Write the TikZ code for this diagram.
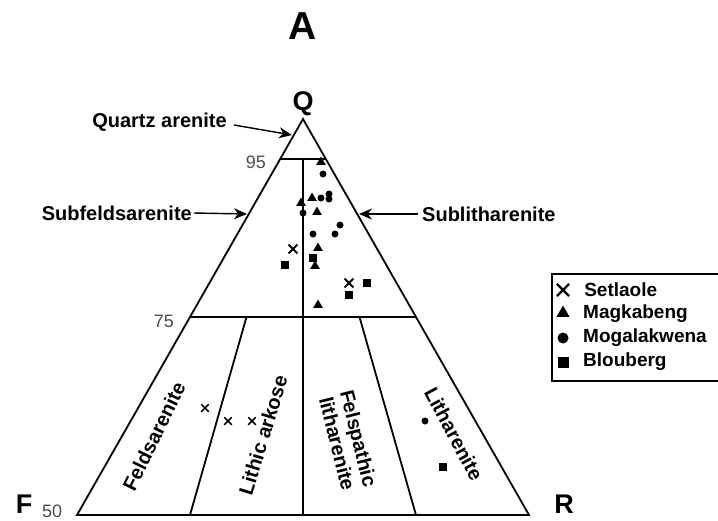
\documentclass[tikz,border=0pt]{standalone}
\usepackage{fontspec}
\setmainfont{Liberation Sans}
\usetikzlibrary{positioning,shapes.geometric,shapes.misc,arrows.meta}

\tikzset{
  frame/.style={line width=1.8pt},
  lab/.style={font=\fontsize{20}{22}\selectfont\bfseries, inner sep=0pt},
  region/.style={lab, align=center},
  legtxt/.style={font=\fontsize{19}{21}\selectfont\bfseries, inner sep=0pt},
  tick/.style={font=\fontsize{18}{20}\selectfont, text=black!70, inner sep=0pt},
  corner/.style={font=\fontsize{27}{30}\selectfont\bfseries, inner sep=0pt},
  arr/.style={line width=1.4pt, -{Stealth[length=13pt,width=11pt]}},
  dot/.style={circle, fill, inner sep=0pt, minimum size=#1},
  dot/.default=7pt,
  sq/.style={rectangle, fill, inner sep=0pt, minimum size=#1},
  sq/.default=8pt,
  tri/.style={regular polygon, regular polygon sides=3, fill, inner sep=0pt, minimum size=#1},
  tri/.default=11pt,
  crs/.style={cross out, draw, line width=1.8pt, inner sep=0pt, minimum size=#1},
  crs/.default=6pt,
}

\begin{document}
\begin{tikzpicture}[x=1pt,y=-1pt]
    \useasboundingbox (0,0) rectangle (718,520);
    \node[corner, font=\fontsize{39}{42}\selectfont\bfseries] (title) at (303,26) {A};

    % QFR triangle, cut at 50% Q
    \coordinate (apex) at (303,119);
    \coordinate (fcorner) at (77,515);
    \coordinate (rcorner) at (529,515);
    \draw[frame] (apex) -- (fcorner) -- (rcorner) -- cycle;
    \draw[frame] (280.4,158.6) -- (325.6,158.6);
    \draw[frame] (190,317) -- (416,317);
    \draw[frame] (303,158.6) -- (303,515);
    \draw[frame] (246.5,317) -- (190,515);
    \draw[frame] (359.5,317) -- (416,515);

    \node[corner] (qlab) at (303,104) {Q};
    \node[corner] (flab) at (24,504) {F};
    \node[corner] (rlab) at (564,504) {R};
    \node[tick, anchor=west] (fifty) at (42,511) {50};
    \node[tick, anchor=east] (ninetyfive) at (266,162) {95};
    \node[tick, anchor=east] (seventyfive) at (174,321) {75};

    % pointers to the upper fields
    \node[lab, anchor=east] (quartz) at (227,122) {Quartz arenite};
    \coordinate (quartztip) at (292,135);
    \draw[arr] ([xshift=7pt,yshift=-3pt]quartz.east) -- (quartztip);
    \node[lab, anchor=east] (subfeld) at (192,213) {Subfeldsarenite};
    \coordinate (subfeldtip) at (247,214);
    \draw[arr] ([xshift=2pt]subfeld.east) -- (subfeldtip);
    \node[lab, anchor=west] (sublith) at (422,214) {Sublitharenite};
    \coordinate (sublithtip) at (359,214);
    \draw[arr] ([xshift=-4pt]sublith.west) -- (sublithtip);

    % lower fields
    \node[region, rotate=64] (feldsar) at (154,436) {Feldsarenite};
    \node[region, rotate=73] (lithark) at (263,435) {Lithic arkose};
    \node[region, rotate=-76] (felsplith) at (348,441) {Felspathic\\litharenite};
    \node[region, rotate=-62] (lithar) at (454,434) {Litharenite};

    % Magkabeng
    \node[tri] (mag1) at (321,162) {};
    \node[tri] (mag2) at (312,198) {};
    \node[tri] (mag3) at (301,203) {};
    \node[tri] (mag4) at (317,212) {};
    \node[tri] (mag5) at (318,248) {};
    \node[tri] (mag6) at (315,266) {};
    \node[tri] (mag7) at (318,305) {};
    % Mogalakwena
    \node[dot] (mog1) at (323,174) {};
    \node[dot] (mog2) at (321,198) {};
    \node[dot] (mog3) at (329,194) {};
    \node[dot] (mog4) at (329,199) {};
    \node[dot] (mog5) at (303,213) {};
    \node[dot] (mog6) at (340,225) {};
    \node[dot] (mog7) at (335,234) {};
    \node[dot] (mog8) at (313,234) {};
    \node[dot] (mog9) at (425,421) {};
    % Setlaole
    \node[crs=7pt] (set1) at (293,249) {};
    \node[crs=7pt] (set2) at (349,283) {};
    \node[crs, line width=1.5pt] (set3) at (205,408) {};
    \node[crs, line width=1.5pt] (set4) at (228,421) {};
    \node[crs, line width=1.5pt] (set5) at (252,421) {};
    % Blouberg
    \node[sq] (blo1) at (313,258) {};
    \node[sq] (blo2) at (285,265) {};
    \node[sq] (blo3) at (367,283) {};
    \node[sq] (blo4) at (349,295) {};
    \node[sq] (blo5) at (443,467) {};

    % legend
    \draw[line width=1.3pt] (718,274) -- (552,274) -- (552,381) -- (718,381);
    \node[crs=10pt, line width=2.2pt] (keyset) at (563,290) {};
    \node[legtxt, right=15pt of keyset] (txtset) {Setlaole};
    \node[tri=15pt] (keymag) at (563,313) {};
    \node[legtxt, anchor=west] (txtmag) at (583,314) {Magkabeng};
    \node[dot=11pt] (keymog) at (563,338) {};
    \node[legtxt, anchor=west] (txtmog) at (583,338) {Mogalakwena};
    \node[sq=11pt] (keyblo) at (563,362) {};
    \node[legtxt, anchor=west] (txtblo) at (583,362) {Blouberg};
\end{tikzpicture}
\end{document}
